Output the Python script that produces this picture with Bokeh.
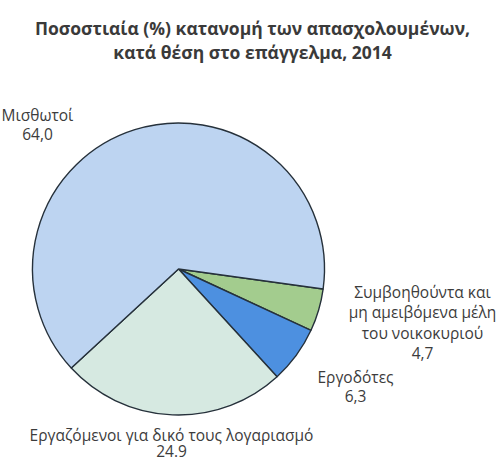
import math
from bokeh.plotting import figure
from bokeh.models import Range1d, ColumnDataSource
from bokeh.core.properties import value
from bokeh.embed import file_html
from bokeh.resources import INLINE

# Data
categories = ["Συμβοηθούντα και μη αμειβόμενα μέλη του νοικοκυριού", "Εργοδότες",
              "Εργαζόμενοι για δικό τους λογαριασμό", "Μισθωτοί"]
values = [4.7, 6.3, 24.9, 64.0]
colors = ["#a3cc8e", "#4d90e0", "#d6e9e1", "#bdd4f1"]
title_lines = ["Ποσοστιαία (%) κατανομή των απασχολουμένων,", "κατά θέση στο επάγγελμα, 2014"]
value_labels = ["4,7", "6,3", "24.9", "64,0"]

W, H = 501, 461
p = figure(width=W, height=H, output_backend="svg", toolbar_location=None,
           x_range=Range1d(0, W), y_range=Range1d(0, H), min_border=0)
p.axis.visible = False
p.grid.visible = False
p.outline_line_color = None
p.background_fill_color = "white"

def fy(y):
    return H - y

cx, cy, r = 178, fy(268.5), 146
start0 = math.radians(-7.9)
total = sum(values)
ends, starts = [], []
cur = start0
for v in values:
    a = v / total * 2 * math.pi
    ends.append(cur)
    starts.append(cur - a)
    cur -= a

src = ColumnDataSource(dict(start=starts, end=ends, color=colors))
p.wedge(x=cx, y=cy, radius=r, start_angle="start", end_angle="end", source=src,
        fill_color="color", line_color="#26313b", line_width=1.4)

font = value("Open Sans")
tc = "#3c3c3c"
# title
p.text(x=[252, 252], y=[fy(27), fy(51)], text=title_lines, text_font=font,
       text_font_size="17.5px", text_font_style="bold", text_color="#3a3a3a",
       text_align="center", text_baseline="middle")

def label(x, ys, lines):
    p.text(x=[x] * len(lines), y=[fy(y) for y in ys], text=lines, text_font=font,
           text_font_size="15.5px", text_color=tc, text_align="center", text_baseline="middle")

label(37, [114, 133], [categories[3], value_labels[3]])
label(422, [291, 311, 332, 352], ["Συμβοηθούντα και", "μη αμειβόμενα μέλη", "του νοικοκυριού", value_labels[0]])
label(355, [376, 395], [categories[1], value_labels[1]])
label(171, [434, 450], [categories[2], value_labels[2]])

open("out.html", "w").write(file_html(p, INLINE))
